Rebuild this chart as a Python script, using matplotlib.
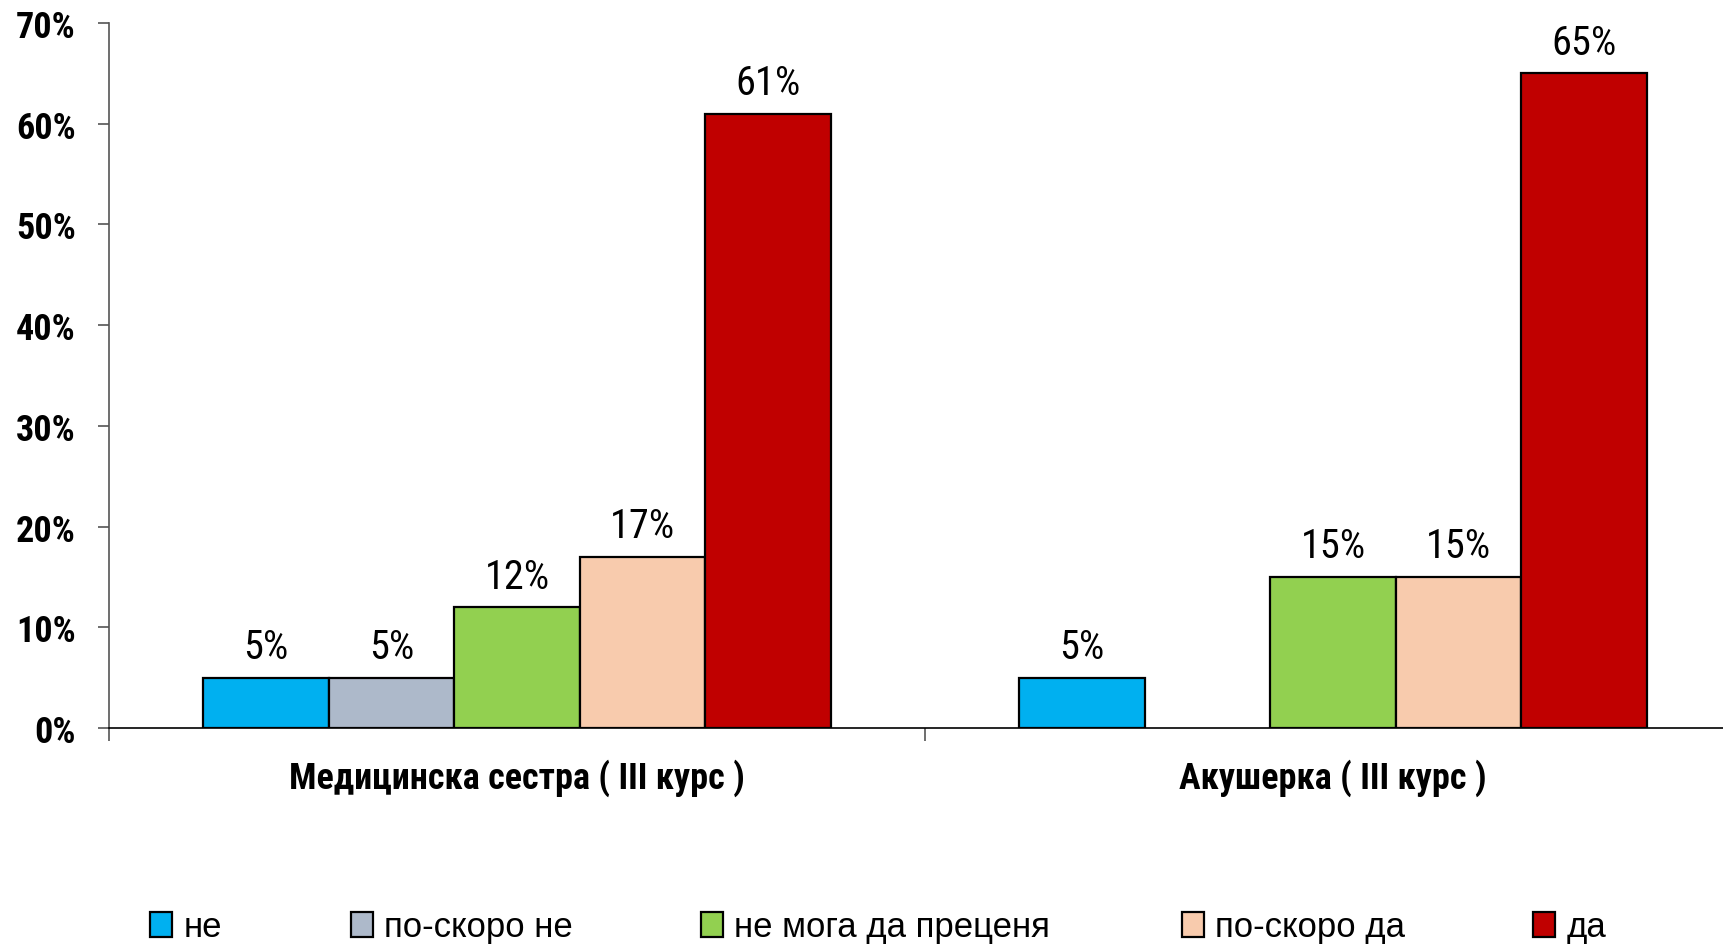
import numpy as np
import matplotlib
matplotlib.use("Agg")
import matplotlib.pyplot as plt

NARROW = ['Roboto Condensed', 'Liberation Sans', 'DejaVu Sans']
REGULAR = ['Liberation Sans', 'DejaVu Sans']
plt.rcParams['font.family'] = NARROW

categories = ['Медицинска сестра ( III курс )', 'Акушерка ( III курс )']
series_names = ['не', 'по-скоро не', 'не мога да преценя', 'по-скоро да', 'да']
values = {
    'не': [5, 5],
    'по-скоро не': [5, np.nan],
    'не мога да преценя': [12, 15],
    'по-скоро да': [17, 15],
    'да': [61, 65],
}
colors = ['#00B0F0', '#ADB9CA', '#92D050', '#F8CBAD', '#C00000']
yticks = [0, 10, 20, 30, 40, 50, 60, 70]
legend_x_px = [150, 351, 701, 1182, 1533]

W, H = 1723, 945
fig = plt.figure(figsize=(W / 100, H / 100), dpi=100)
ax = fig.add_axes([109 / W, 216 / H, 1632 / W, 705 / H])

n = len(series_names)
bw = 1 / (n + 1.5)
centers = np.arange(len(categories)) + 0.5
handles = []
for i, (name, c) in enumerate(zip(series_names, colors)):
    vals = np.array(values[name], dtype=float)
    x = centers + (i - (n - 1) / 2) * bw
    bars = ax.bar(x, vals, width=bw, color=c, edgecolor='black', linewidth=1.6, label=name, zorder=3)
    handles.append(bars)
    for xi, v in zip(x, vals):
        if not np.isnan(v):
            ax.annotate(f'{v:.0f}%', (xi, v), xytext=(0, 14), textcoords='offset points',
                        ha='center', va='baseline', fontsize=29)

ax.set_xlim(0, 2)
ax.set_ylim(0, 70)
ax.set_yticks(yticks)
ax.set_yticklabels([f'{t}%' for t in yticks], fontsize=26, fontweight='bold')
ax.set_xticks([0, 1, 2])
ax.set_xticklabels(['', '', ''])
ax.set_xticks(centers, minor=True)
ax.set_xticklabels(categories, minor=True, fontsize=26, fontweight='bold')
ax.tick_params(axis='x', which='major', direction='out', length=9, width=1.2, color='#555555')
ax.tick_params(axis='x', which='minor', length=0, pad=22)
ax.tick_params(axis='y', direction='out', length=8, width=1.2, pad=16, color='#555555')
ax.spines['top'].set_visible(False)
ax.spines['right'].set_visible(False)
ax.spines['left'].set_color('#555555')
ax.spines['left'].set_linewidth(1.2)
ax.spines['bottom'].set_color('black')
ax.spines['bottom'].set_linewidth(1.2)

for h, name, xp in zip(handles, series_names, legend_x_px):
    fig.legend(handles=[h], labels=[name], loc='center left',
               bbox_to_anchor=(xp / W, 1 - 928 / H), frameon=False,
               prop={'family': REGULAR, 'size': 25},
               handlelength=0.64, handleheight=0.7, handletextpad=0.32,
               borderpad=0, borderaxespad=0)

fig.savefig('out.png', dpi=100)
